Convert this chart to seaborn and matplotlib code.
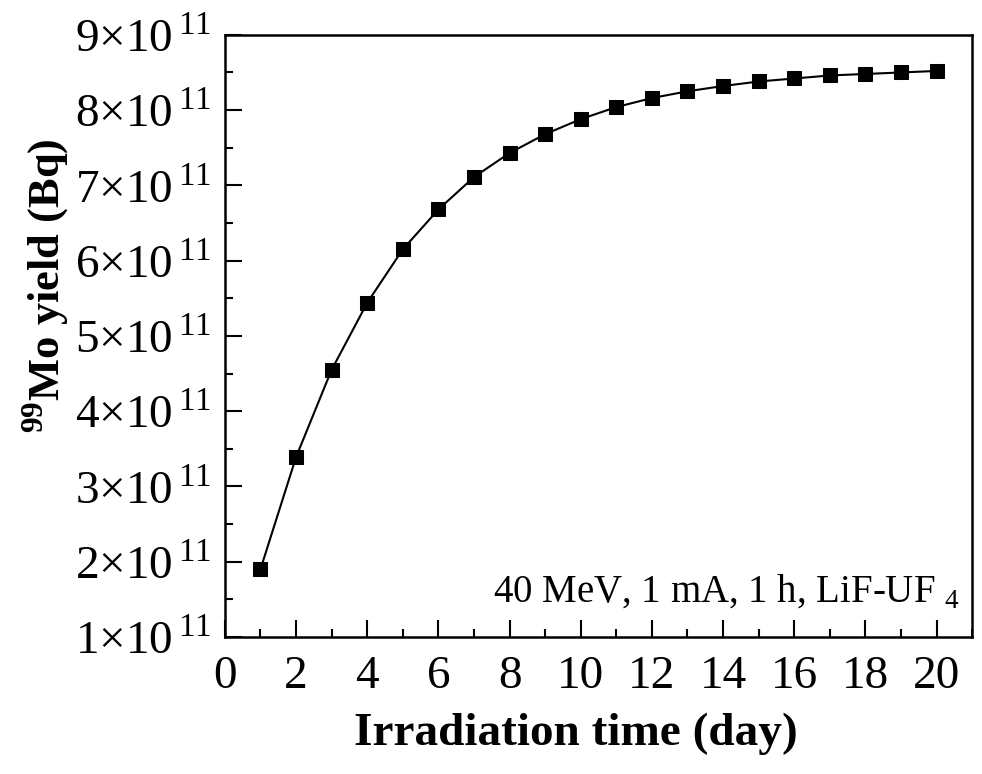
import matplotlib
matplotlib.use('Agg')
import matplotlib.pyplot as plt
from matplotlib.ticker import FuncFormatter, MultipleLocator
import seaborn as sns
import pandas as pd

days = list(range(1, 21))
mo_yield = [1.90, 3.39, 4.55, 5.44, 6.15, 6.68, 7.11, 7.43, 7.68, 7.88,
            8.04, 8.16, 8.25, 8.32, 8.38, 8.42, 8.46, 8.48, 8.50, 8.52]  # x 1e11 Bq

df = pd.DataFrame({'day': days, 'yield': [v * 1e11 for v in mo_yield]})

sns.set_style('ticks')
plt.rcParams['font.family'] = ['Liberation Serif', 'DejaVu Serif']
plt.rcParams['mathtext.fontset'] = 'custom'
plt.rcParams['mathtext.rm'] = 'Liberation Serif'
plt.rcParams['mathtext.bf'] = 'Liberation Serif:bold'
plt.rcParams['text.color'] = 'black'
plt.rcParams['axes.labelcolor'] = 'black'

fig = plt.figure(figsize=(9.82, 7.74), dpi=100)
ax = fig.add_axes([0.229, 0.177, 0.761, 0.778])

sns.lineplot(data=df, x='day', y='yield', ax=ax, color='black', lw=1.5,
             marker='s', markersize=9.5, markeredgecolor='black')

ax.set_xlim(0, 21)
ax.set_ylim(1e11, 9e11)
ax.xaxis.set_major_locator(MultipleLocator(2))
ax.xaxis.set_minor_locator(MultipleLocator(1))
ax.yaxis.set_major_locator(MultipleLocator(1e11))
ax.yaxis.set_minor_locator(MultipleLocator(0.5e11))
ax.yaxis.set_major_formatter(FuncFormatter(
    lambda v, p: '%d×10$^{\\,11}$' % round(v / 1e11)))

ax.tick_params(which='both', direction='in', width=1.5, colors='black',
               labelsize=34, top=False, right=False)
ax.tick_params(which='major', length=12)
ax.tick_params(which='minor', length=6)
ax.tick_params(axis='x', pad=13)
ax.tick_params(axis='y', pad=10)
for s in ax.spines.values():
    s.set_linewidth(1.8)
    s.set_color('black')

ax.set_xlabel('Irradiation time (day)', fontsize=34, fontweight='bold')
ax.xaxis.set_label_coords(0.47, -0.125)
ax.set_ylabel(r'$^{\mathbf{99}}$Mo yield (Bq)', fontsize=32, fontweight='bold')
ax.yaxis.set_label_coords(-0.205, 0.583)

ax.text(0.984, 0.058, r'40 MeV, 1 mA, 1 h, LiF-UF $_4$', transform=ax.transAxes,
        ha='right', va='baseline', fontsize=28, color='black')

fig.savefig('out.png', dpi=100)
